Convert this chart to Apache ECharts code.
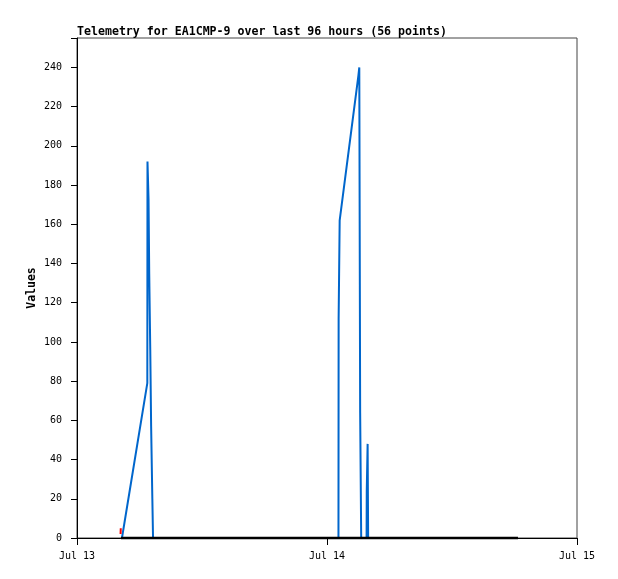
<!DOCTYPE html>
<html>
<head>
<meta charset="utf-8">
<script src="https://cdn.jsdelivr.net/npm/echarts@6/dist/echarts.min.js"></script>
<style>
html,body{margin:0;padding:0;background:#fff;}
#chart{width:618px;height:579px;}
</style>
</head>
<body>
<div id="chart"></div>
<script>
// ---- data (UTC times) ----
const titleText = 'Telemetry for EA1CMP-9 over last 96 hours (56 points)';
const yAxisName = 'Values';
const xStart = '2024-07-13 00:00';
const xEnd = '2024-07-15 00:00';

const blueTimes = ['2024-07-13 04:19','2024-07-13 06:45','2024-07-13 06:46','2024-07-13 06:52','2024-07-13 06:56','2024-07-13 07:02','2024-07-13 07:07','2024-07-13 07:14','2024-07-13 07:18',
  '2024-07-14 01:06','2024-07-14 01:07','2024-07-14 01:13','2024-07-14 03:01','2024-07-14 03:06','2024-07-14 03:11','2024-07-14 03:17',
  '2024-07-14 03:48','2024-07-14 03:49','2024-07-14 03:54','2024-07-14 03:57'];
const blueValues = [0,79,192,173,135,96,57,20,0,
  0,112,162,236,240,64,0,
  0,24,48,0];

const redTimes = ['2024-07-13 04:11','2024-07-13 04:12'];
const redValues = [2,5];

const blackTimes = ['2024-07-13 04:13','2024-07-13 06:46','2024-07-13 09:30','2024-07-13 14:00','2024-07-13 20:00','2024-07-14 01:06','2024-07-14 03:11','2024-07-14 08:00','2024-07-14 13:00','2024-07-14 18:20'];
const blackValues = [0,0,0,0,0,0,0,0,0,0];

const yTickMax = 255;
const yTickStep = 20;
const monthNames = ['Jan','Feb','Mar','Apr','May','Jun','Jul','Aug','Sep','Oct','Nov','Dec'];

function parseUTC(s){ return Date.parse(s.replace(' ','T') + ':00Z'); }
function pairs(ts, vs){ return ts.map((t,i)=>[parseUTC(t), vs[i]]); }

const mono = 'DejaVu Sans Mono';
const chart = echarts.init(document.getElementById('chart'), null, {renderer:'canvas'});
chart.setOption({
  animation: false,
  backgroundColor: '#fff',
  title: {
    text: titleText, left: 77, top: 26, padding: 0,
    textStyle: {fontFamily: mono, fontSize: 11.6, fontWeight: 'bold', color: '#000'}
  },
  grid: {left: 77, top: 38, width: 500, height: 500, show: true, borderColor: '#444', borderWidth: 1, backgroundColor: 'transparent'},
  xAxis: {
    type: 'value',
    min: parseUTC(xStart), max: parseUTC(xEnd), interval: 86400000,
    axisLine: {show: true, onZero: false, lineStyle: {color: '#000', width: 1}},
    axisTick: {show: true, length: 7, lineStyle: {color: '#000'}},
    splitLine: {show: false},
    axisLabel: {
      margin: 13, fontFamily: mono, fontSize: 10, color: '#000',
      formatter: v => { const d = new Date(v); return monthNames[d.getUTCMonth()] + ' ' + d.getUTCDate(); }
    }
  },
  yAxis: {
    type: 'value', min: 0, max: yTickMax, interval: yTickStep,
    name: yAxisName, nameLocation: 'middle', nameGap: 39, nameRotate: 90, nameMoveOverlap: false,
    nameTextStyle: {fontFamily: mono, fontSize: 11.5, fontWeight: 'bold', color: '#000'},
    axisLine: {show: true, lineStyle: {color: '#000', width: 1}},
    axisTick: {show: true, length: 6, lineStyle: {color: '#000'}},
    splitLine: {show: false},
    axisLabel: {margin: 15, fontFamily: mono, fontSize: 10, color: '#000',
      formatter: v => (v > 240 ? '' : String(v))}
  },
  series: [
    {type: 'line', data: pairs(blueTimes, blueValues), showSymbol: false, symbol: 'none',
     lineStyle: {color: '#0066cc', width: 2}, clip: false},
    {type: 'line', data: pairs(redTimes, redValues), showSymbol: false, symbol: 'none',
     lineStyle: {color: '#ff0000', width: 2}, clip: false},
    {type: 'line', data: pairs(blackTimes, blackValues), showSymbol: false, symbol: 'none',
     lineStyle: {color: '#000000', width: 2.5}, clip: false}
  ]
});
</script>
</body>
</html>
